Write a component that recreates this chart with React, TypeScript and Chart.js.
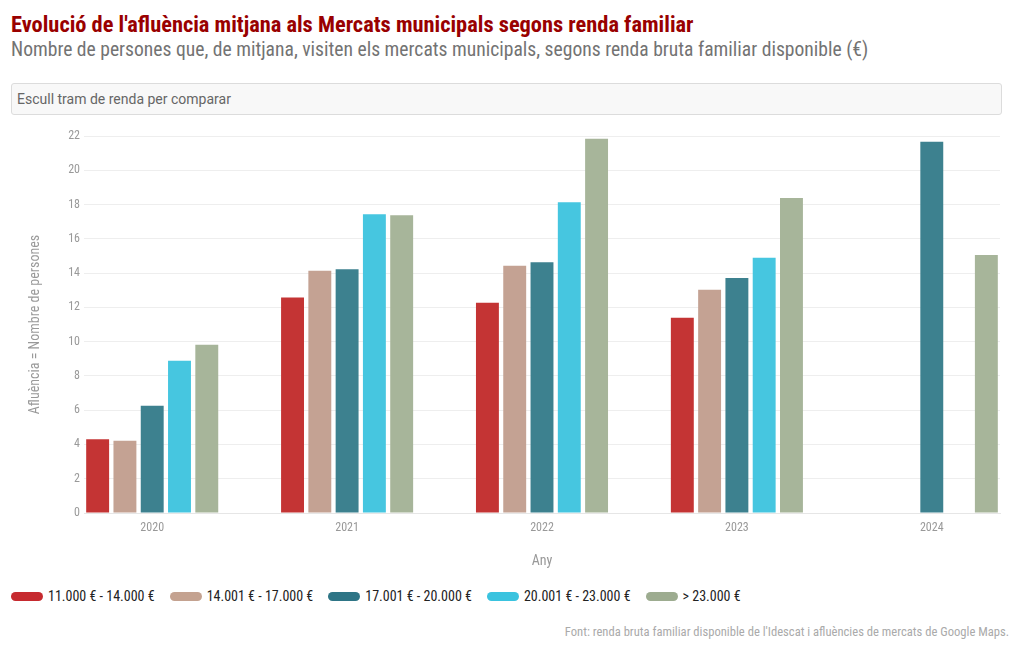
import React, { useEffect, useRef } from "react";
import { Chart, registerables } from "chart.js";

Chart.register(...registerables);

const years = [2020, 2021, 2022, 2023, 2024];
const seriesNames = [
  "11.000 € - 14.000 €",
  "14.001 € - 17.000 €",
  "17.001 € - 20.000 €",
  "20.001 € - 23.000 €",
  "> 23.000 €",
];
const tram1 = [4.3, 12.58, 12.27, 11.39, null];
const tram2 = [4.22, 14.14, 14.43, 13.03, null];
const tram3 = [6.26, 14.22, 14.63, 13.71, 21.66];
const tram4 = [8.89, 17.43, 18.13, 14.9, null];
const tram5 = [9.82, 17.37, 21.84, 18.38, 15.05];
const barColors = ["#c43434", "#c4a293", "#3d818f", "#46c6e0", "#a7b59a"];
const legendColors = ["#c62a2f", "#c4a290", "#2e7586", "#3ac3df", "#9dac90"];
const yTicks = [0, 2, 4, 6, 8, 10, 12, 14, 16, 18, 20, 22];

const FONT = "'Roboto Condensed', 'Liberation Sans Narrow', 'DejaVu Sans Condensed', Roboto, sans-serif";

export default function App() {
  const ref = useRef<HTMLCanvasElement | null>(null);
  useEffect(() => {
    if (!ref.current) return;
    const all = [tram1, tram2, tram3, tram4, tram5];
    const chart = new Chart(ref.current, {
      type: "bar",
      data: {
        datasets: all.map((vals, i) => ({
          label: seriesNames[i],
          data: years.map((y, j) => ({ x: y, y: vals[j] })),
          backgroundColor: barColors[i],
          borderWidth: 0,
          categoryPercentage: 0.7,
          barPercentage: 0.84,
        })) as any,
      },
      options: {
        animation: false,
        responsive: false,
        maintainAspectRatio: false,
        layout: { padding: { top: 14, right: 8, bottom: 0, left: 0 } },
        plugins: { legend: { display: false }, tooltip: { enabled: false } },
        scales: {
          x: {
            type: "linear",
            offset: false,
            min: 2019.65,
            max: 2024.35,
            afterBuildTicks: (s: any) => {
              s.ticks = years.map((v) => ({ value: v }));
            },
            afterFit: (s: any) => {
              s.height = 64;
            },
            grid: { display: false, drawTicks: false, offset: false },
            border: { display: true, color: "#e6e6e6" },
            ticks: {
              padding: 8,
              color: "#999",
              font: { family: FONT, size: 12 },
              callback: (v: any) => String(v),
            },
            title: {
              display: true,
              text: "Any",
              color: "#999",
              font: { family: FONT, size: 14 },
              padding: { top: 0, bottom: 7 },
            },
          },
          y: {
            min: 0,
            max: 22,
            afterBuildTicks: (s: any) => {
              s.ticks = yTicks.map((v) => ({ value: v }));
            },
            afterFit: (s: any) => {
              s.width = 76;
            },
            grid: { color: "#eeeeee", drawTicks: false },
            border: { display: false },
            ticks: {
              padding: 4,
              color: "#999",
              font: { family: FONT, size: 12 },
            },
            title: {
              display: true,
              text: "Afluència = Nombre de persones",
              color: "#999",
              font: { family: FONT, size: 14 },
              padding: { top: 19, bottom: 0 },
            },
          },
        },
      } as any,
    });
    return () => chart.destroy();
  }, []);

  return (
    <div style={{ position: "relative", width: 1004, height: 634, fontFamily: FONT }}>
      <div style={{ position: "absolute", left: 3, top: 2, fontSize: 22.4, fontWeight: 700, color: "#990000", whiteSpace: "nowrap", lineHeight: "28px" }}>
        Evolució de l'afluència mitjana als Mercats municipals segons renda familiar
      </div>
      <div style={{ position: "absolute", left: 3, top: 29, fontSize: 19.6, color: "#737373", whiteSpace: "nowrap", lineHeight: "26px" }}>
        Nombre de persones que, de mitjana, visiten els mercats municipals, segons renda bruta familiar disponible (€)
      </div>
      <div style={{ position: "absolute", left: 3, top: 75, width: 984, height: 30, background: "#f8f8f8", border: "1px solid #dcdcdc", borderRadius: 3, fontFamily: "Roboto, sans-serif", fontSize: 14, color: "#666", lineHeight: "30px", paddingLeft: 5 }}>
        Escull tram de renda per comparar
      </div>
      <canvas ref={ref} width={1000} height={455} style={{ position: "absolute", left: 0, top: 114, width: 1000, height: 455 }} />
      <div style={{ position: "absolute", left: 3, top: 579, display: "flex", alignItems: "center", height: 18, whiteSpace: "nowrap" }}>
        {seriesNames.map((n, i) => (
          <div key={n} style={{ display: "flex", alignItems: "center", marginRight: 15 }}>
            <span style={{ display: "inline-block", width: 32, height: 9, borderRadius: 5, background: legendColors[i], marginRight: 5 }} />
            <span style={{ fontSize: 14, color: "#222" }}>{n}</span>
          </div>
        ))}
      </div>
      <div style={{ position: "absolute", right: 3, top: 616, fontSize: 12.6, color: "#aaa", whiteSpace: "nowrap", lineHeight: "16px" }}>
        Font: renda bruta familiar disponible de l'Idescat i afluències de mercats de Google Maps.
      </div>
    </div>
  );
}
